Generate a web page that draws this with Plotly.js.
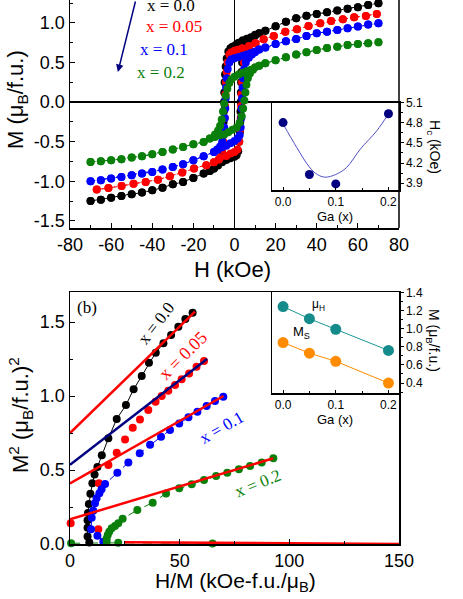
<!DOCTYPE html>
<html>
<head>
<meta charset="utf-8">
<script src="https://cdn.plot.ly/plotly-3.0.1.min.js"></script>
<style>html,body{margin:0;padding:0;background:#fff;}#plot{width:463px;height:599px;}</style>
</head>
<body>
<div id="plot"></div>
<script>
// ---------- Panel (a): M-H loops ----------
const hDownBlack = [70,65,60,55,50,45,40,35,30,25,20,15,12,10,8,6,4,2,1,0,-1,-2,-3,-3.8,-4.3,-4.6,-4.8,-5.0,-5.1,-5.2,-5.3,-5.4,-5.6,-6,-7,-8,-10,-12,-15,-20,-25,-30,-35,-40,-45,-50,-55,-60,-65,-70];
const mDownBlack = [1.25,1.228,1.20,1.178,1.156,1.135,1.114,1.09,1.06,1.016,0.96,0.90,0.87,0.85,0.82,0.80,0.78,0.75,0.73,0.71,0.70,0.68,0.64,0.55,0.45,0.35,0.25,0.12,0.0,-0.12,-0.25,-0.38,-0.52,-0.62,-0.72,-0.78,-0.84,-0.87,-0.903,-0.958,-1.009,-1.038,-1.08,-1.114,-1.143,-1.165,-1.186,-1.207,-1.232,-1.249];
const hUpBlack = [-70,-65,-60,-55,-50,-45,-40,-35,-30,-25,-20,-15,-12,-10,-8,-6,-4,-2,0,1,1.8,2.3,2.6,2.8,2.9,3.0,3.1,3.2,3.4,3.7,4.2,5,6,8,10,12,15,20,25,30,35,40,45,50,55,60,65,70];
const mUpBlack = [-1.249,-1.232,-1.207,-1.186,-1.165,-1.143,-1.114,-1.08,-1.038,-1.009,-0.958,-0.903,-0.87,-0.84,-0.80,-0.76,-0.73,-0.71,-0.69,-0.67,-0.62,-0.50,-0.38,-0.25,-0.12,0.0,0.12,0.25,0.38,0.50,0.60,0.68,0.74,0.80,0.84,0.87,0.90,0.96,1.016,1.06,1.09,1.114,1.135,1.156,1.178,1.20,1.228,1.25];

const hDownRed = [69.2,63.9,58.2,52.7,47,41.7,36,30.4,24.7,19.1,14.2,10.2,7,3.7,1.5,0,-1.5,-2.5,-3.3,-3.8,-4.1,-4.4,-4.6,-4.8,-5.1,-5.5,-6,-7,-7.6,-10,-13.7,-19.7,-25.4,-31.4,-37.2,-43.2,-49.1,-54.9,-61.3,-67];
const mDownRed = [1.114,1.089,1.072,1.047,1.025,0.996,0.962,0.92,0.89,0.835,0.794,0.743,0.71,0.68,0.66,0.65,0.63,0.60,0.50,0.38,0.25,0.10,-0.05,-0.20,-0.35,-0.50,-0.60,-0.70,-0.725,-0.76,-0.797,-0.84,-0.89,-0.937,-0.979,-1.009,-1.03,-1.059,-1.085,-1.105];
const hUpRed = [-67,-61.3,-54.9,-49.1,-43.2,-37.2,-31.4,-25.4,-19.7,-13.7,-10,-7.6,-4,-1.9,0,1.5,2.3,2.7,3.0,3.2,3.4,3.7,4.1,4.6,5.5,7,10.2,14.2,19.1,24.7,30.4,36,41.7,47,52.7,58.2,63.9,69.2];
const mUpRed = [-1.105,-1.085,-1.059,-1.03,-1.009,-0.979,-0.937,-0.89,-0.84,-0.797,-0.76,-0.725,-0.68,-0.65,-0.63,-0.60,-0.50,-0.35,-0.20,-0.05,0.10,0.25,0.38,0.50,0.60,0.68,0.743,0.794,0.835,0.89,0.92,0.962,0.996,1.025,1.047,1.072,1.089,1.114];

const hDownBlue = [70,65,60,55,50,45,40,35,30,25,20,15,12,10,8,6,4,2,0,-1.5,-2.5,-3.3,-3.8,-4.1,-4.3,-4.5,-4.7,-5,-5.4,-6,-7,-8.5,-10,-15,-20,-25,-30,-35,-40,-45,-50,-55,-60,-65,-70];
const mDownBlue = [0.996,0.98,0.954,0.933,0.911,0.89,0.87,0.835,0.797,0.77,0.735,0.69,0.665,0.64,0.62,0.60,0.585,0.57,0.555,0.54,0.50,0.42,0.30,0.18,0.05,-0.08,-0.20,-0.32,-0.42,-0.50,-0.56,-0.60,-0.629,-0.684,-0.734,-0.785,-0.819,-0.852,-0.882,-0.903,-0.924,-0.945,-0.966,-0.987,-1.0];
const hUpBlue = [-70,-65,-60,-55,-50,-45,-40,-35,-30,-25,-20,-15,-10,-8,-6,-4,-2,0,1.5,2.5,3,3.3,3.5,3.7,3.9,4.2,4.7,5.5,7,8.5,10,12,15,20,25,30,35,40,45,50,55,60,65,70];
const mUpBlue = [-1.0,-0.987,-0.966,-0.945,-0.924,-0.903,-0.882,-0.852,-0.819,-0.785,-0.734,-0.684,-0.629,-0.60,-0.57,-0.55,-0.52,-0.49,-0.46,-0.42,-0.32,-0.20,-0.08,0.05,0.18,0.30,0.42,0.50,0.56,0.60,0.63,0.665,0.69,0.735,0.77,0.797,0.835,0.87,0.89,0.911,0.933,0.954,0.98,0.996];

const hDownGreen = [70,65,60,55,50,45,40,35,30,25,20,15,12,10,8,6,4,2,0,-1.5,-2.5,-3.5,-4.3,-5,-5.6,-6.2,-7,-8,-9.5,-12,-15,-20,-25,-30,-35,-40,-45,-50,-55,-60,-65,-70];
const mDownGreen = [0.756,0.745,0.734,0.72,0.70,0.684,0.658,0.63,0.60,0.566,0.53,0.49,0.46,0.44,0.41,0.39,0.37,0.35,0.32,0.29,0.24,0.17,0.08,-0.02,-0.12,-0.22,-0.30,-0.36,-0.41,-0.46,-0.503,-0.532,-0.566,-0.599,-0.629,-0.658,-0.684,-0.70,-0.722,-0.734,-0.747,-0.755];
const hUpGreen = [-70,-65,-60,-55,-50,-45,-40,-35,-30,-25,-20,-15,-12,-9.5,-7,-5,-3,-1,1,2.5,3.5,4.2,4.8,5.3,5.8,6.5,7.5,9,12,15,20,25,30,35,40,45,50,55,60,65,70];
const mUpGreen = [-0.755,-0.747,-0.734,-0.722,-0.70,-0.684,-0.658,-0.629,-0.599,-0.566,-0.532,-0.503,-0.46,-0.44,-0.42,-0.41,-0.38,-0.35,-0.32,-0.26,-0.18,-0.08,0.02,0.12,0.22,0.30,0.36,0.41,0.46,0.49,0.53,0.566,0.60,0.63,0.658,0.684,0.70,0.72,0.734,0.745,0.756];

// tick labels of panel (a) (plain hyphen minus as in the figure)
const hTickVals = [-80,-60,-40,-20,0,20,40,60,80];
const hTickText = ['-80','-60','-40','-20','0','20','40','60','80'];
const mTickVals = [-1.5,-1.0,-0.5,0.0,0.5,1.0];
const mTickText = ['-1.5','-1.0','-0.5','0.0','0.5','1.0'];

// inset (a): coercive field vs Ga
const gaX = [0, 0.05, 0.1, 0.2];
const hcVals = [4.8, 4.03, 3.89, 4.93];
const hcFitGa = [0, 0.026, 0.05, 0.065, 0.08, 0.1, 0.12, 0.147, 0.178, 0.2];
const hcFitVals = [4.78, 4.43, 4.14, 4.03, 3.99, 4.03, 4.13, 4.41, 4.68, 4.93];

// ---------- Panel (b): Arrott plots ----------
const hmX00 = [8.8,8.0,8.0,8.0,8.2,8.6,9.3,10.2,11.2,12.5,14.5,17.5,21.3,25.5,29.0,32.7,36.0,39.1,42.6,46.1,49.4,52.6,55.9];
const m2X00 = [0.01,0.05,0.11,0.16,0.21,0.27,0.34,0.41,0.47,0.52,0.60,0.714,0.845,0.939,1.045,1.135,1.225,1.293,1.356,1.412,1.468,1.52,1.563];
const hmX05 = [0.3,12.9,13.2,17.5,21.3,25.1,28.6,31.9,35.7,39.0,41.8,44.8,47.9,50.9,54.3,57.7,61.1];
const m2X05 = [0.14,0.10,0.41,0.534,0.617,0.707,0.786,0.842,0.905,0.962,1.0,1.036,1.074,1.113,1.153,1.198,1.236];
const hmX10 = [15.2,12.5,9.6,9.9,10.6,11.4,12.1,13.4,14.4,16.0,21.6,26.6,31.8,36.5,41.5,45.6,49.8,54.0,58.1,62.3,66.1,69.9];
const m2X10 = [0.016,0.055,0.10,0.178,0.225,0.275,0.31,0.343,0.37,0.405,0.482,0.55,0.613,0.67,0.725,0.770,0.815,0.856,0.894,0.932,0.966,0.995];
const hmX20 = [16.7,16.7,17.2,17.9,19.0,20.5,22.0,24.0,30.7,37.7,43.8,49.8,55.5,61.1,66.6,71.7,77.0,82.1,87.4,92.7];
const m2X20 = [0.016,0.038,0.061,0.083,0.106,0.122,0.14,0.17,0.23,0.279,0.342,0.376,0.403,0.432,0.46,0.482,0.505,0.527,0.55,0.579];
const hmZero = [0.5, 22, 65];
const m2Zero = [0.005, 0.008, 0.004];
const hmZeroFit = [25, 150];
const m2ZeroFit = [0.012, 0.0];
// linear high-field fits
const fitHm00 = [0, 57], fitM00 = [0.75, 1.57];
const fitHm05 = [0, 62.5], fitM05 = [0.535, 1.25];
const fitHm10 = [0, 70], fitM10 = [0.41, 1.0];
const fitHm20 = [0, 92.7], fitM20 = [0.167, 0.579];

// inset (b)
const gaX2 = [0, 0.05, 0.1, 0.2];
const muH = [1.244, 1.11, 0.993, 0.76];
const msVals = [0.847, 0.73, 0.64, 0.40];

// ---------- styling ----------
const SANS = 'Liberation Sans, Arial, sans-serif';
const SERIF = 'Liberation Serif, Times New Roman, serif';
const cBlack = '#000000', cRed = '#ff0000', cBlue = '#0000ff', cGreen = '#0a800a', cNavy = '#000080';

function loop(hd, md, hu, mu, col) {
  return {x: hd.concat(hu), y: md.concat(mu), xaxis: 'x', yaxis: 'y', type: 'scatter', mode: 'lines+markers',
    line: {color: col, width: 1, dash: 'dot'}, marker: {color: col, size: 8}, cliponaxis: true};
}
function arrott(x, y, col, mode, dash) {
  return {x: x, y: y, xaxis: 'x2', yaxis: 'y2', type: 'scatter', mode: mode,
    line: {color: col, width: 1, dash: dash}, marker: {color: col, size: 8}, cliponaxis: false};
}
function fit(x, y, col) {
  return {x: x, y: y, xaxis: 'x2', yaxis: 'y2', type: 'scatter', mode: 'lines', line: {color: col, width: 2.5}};
}

const traces = [
  loop(hDownBlack, mDownBlack, hUpBlack, mUpBlack, cBlack),
  loop(hDownRed, mDownRed, hUpRed, mUpRed, cRed),
  loop(hDownBlue, mDownBlue, hUpBlue, mUpBlue, cBlue),
  loop(hDownGreen, mDownGreen, hUpGreen, mUpGreen, cGreen),
  {x: hcFitGa, y: hcFitVals, xaxis: 'x3', yaxis: 'y3', type: 'scatter', mode: 'lines', line: {color: '#5050c8', width: 1, shape: 'spline'}},
  {x: gaX, y: hcVals, xaxis: 'x3', yaxis: 'y3', type: 'scatter', mode: 'markers', marker: {color: cNavy, size: 9}, cliponaxis: false},
  arrott(hmZero, m2Zero, cGreen, 'lines+markers', 'dash'),
  arrott(hmX00, m2X00, cBlack, 'lines+markers', 'solid'),
  arrott(hmX05, m2X05, cRed, 'markers', 'solid'),
  arrott(hmX10, m2X10, cBlue, 'lines+markers', 'dash'),
  arrott(hmX20, m2X20, cGreen, 'lines+markers', 'dash'),
  fit(hmZeroFit, m2ZeroFit, cRed),
  fit(fitHm00, fitM00, cRed),
  fit(fitHm05, fitM05, cNavy),
  fit(fitHm10, fitM10, cRed),
  fit(fitHm20, fitM20, cRed),
  {x: gaX2, y: muH, xaxis: 'x4', yaxis: 'y4', type: 'scatter', mode: 'lines+markers', line: {color: '#1a9696', width: 1}, marker: {color: '#148c8c', size: 11}, cliponaxis: false},
  {x: gaX2, y: msVals, xaxis: 'x4', yaxis: 'y4', type: 'scatter', mode: 'lines+markers', line: {color: '#ff8c00', width: 1}, marker: {color: '#ff8c00', size: 11}, cliponaxis: false}
];

const W = 463, H = 599, ML = 70, MR = 64, MT = 0, MB = 55;
const PW = W - ML - MR, PH = H - MT - MB;
const px = v => (v - ML) / PW;
const py = v => (PH - (v - MT)) / PH;

const axBase = {showline: true, linecolor: 'black', linewidth: 1.5, showgrid: false, zeroline: false,
  ticks: 'inside', tickcolor: 'black', tickwidth: 1, ticklen: 5, tickfont: {family: SANS, size: 18, color: 'black'}};
const insetFont = {family: SANS, size: 12, color: 'black'};

function note(xp, yp, text, size, angle, family, color) {
  return {xref: 'paper', yref: 'paper', x: px(xp), y: py(yp), xanchor: 'center', yanchor: 'middle', text: text,
    textangle: angle || 0, showarrow: false, font: {family: family || SANS, size: size, color: color || 'black'}};
}
function dnote(xr, yr, x, y, text, size, angle, color) {
  return {xref: xr, yref: yr, x: x, y: y, xanchor: 'center', yanchor: 'middle', text: text, textangle: angle || 0,
    showarrow: false, font: {family: SERIF, size: size, color: color}};
}

const layout = {
  width: W, height: H, margin: {l: ML, r: MR, t: MT, b: MB, pad: 0},
  paper_bgcolor: 'white', plot_bgcolor: 'rgba(0,0,0,0)', showlegend: false,
  xaxis: Object.assign({}, axBase, {domain: [0, 1], anchor: 'y', range: [-80, 80], tickmode: 'array', tickvals: hTickVals, ticktext: hTickText,
    zeroline: true, zerolinecolor: 'black', zerolinewidth: 1.5,
    minor: {tickmode: 'linear', tick0: 0, dtick: 10, ticks: 'inside', ticklen: 3, tickcolor: 'black'}}),
  yaxis: Object.assign({}, axBase, {domain: [py(228), 1], anchor: 'x', range: [-1.59, 1.29], tickmode: 'array', tickvals: mTickVals, ticktext: mTickText,
    zeroline: true, zerolinecolor: 'black', zerolinewidth: 1.5,
    minor: {tickmode: 'linear', tick0: 0, dtick: 0.25, ticks: 'inside', ticklen: 3, tickcolor: 'black'}}),
  xaxis2: Object.assign({}, axBase, {domain: [0, 1], anchor: 'y2', range: [0, 150], tick0: 0, dtick: 50, mirror: true,
    minor: {dtick: 25, ticks: 'inside', ticklen: 3, tickcolor: 'black'}}),
  yaxis2: Object.assign({}, axBase, {domain: [0, py(292)], anchor: 'x2', range: [0, 1.703], tick0: 0, dtick: 0.5, tickformat: '.1f', mirror: true,
    minor: {dtick: 0.25, ticks: 'inside', ticklen: 3, tickcolor: 'black'}}),
  xaxis3: Object.assign({}, axBase, {domain: [px(272), 1], anchor: 'y3', range: [-0.021, 0.22], tick0: 0, dtick: 0.1, tickformat: '.1f',
    mirror: true, ticklen: 3, tickfont: insetFont,
    minor: {dtick: 0.05, ticks: 'inside', ticklen: 2, tickcolor: 'black'}}),
  yaxis3: Object.assign({}, axBase, {domain: [py(190), py(102)], anchor: 'x3', side: 'right', range: [3.8, 5.105], tick0: 3.9, dtick: 0.3,
    tickformat: '.1f', mirror: true, ticks: 'outside', ticklen: 3, tickfont: insetFont,
    minor: {dtick: 0.15, ticks: 'outside', ticklen: 2, tickcolor: 'black'}}),
  xaxis4: Object.assign({}, axBase, {domain: [px(272), 1], anchor: 'y4', range: [-0.021, 0.22], tick0: 0, dtick: 0.1, tickformat: '.1f',
    mirror: true, ticklen: 3, tickfont: insetFont,
    minor: {dtick: 0.05, ticks: 'inside', ticklen: 2, tickcolor: 'black'}}),
  yaxis4: Object.assign({}, axBase, {domain: [py(393), py(292)], anchor: 'x4', side: 'right', range: [0.29, 1.405], tick0: 0, dtick: 0.2,
    tickformat: '.1f', mirror: true, ticks: 'outside', ticklen: 3, tickfont: insetFont,
    minor: {dtick: 0.1, ticks: 'outside', ticklen: 2, tickcolor: 'black'}}),
  shapes: [
    {type: 'line', xref: 'paper', yref: 'paper', x0: 1, x1: 1, y0: py(228), y1: 1, line: {color: 'black', width: 1.5}}
  ],
  annotations: [
    note(17, 100, 'M (μ<sub>B</sub>/f.u.)', 22, -90),
    note(232, 269, 'H (kOe)', 22),
    dnote('x', 'y', -31, 1.215, 'x = 0.0', 17, 0, cBlack),
    dnote('x', 'y', -29.6, 0.95, 'x = 0.05', 17, 0, cRed),
    dnote('x', 'y', -34.4, 0.67, 'x = 0.1', 17, 0, cBlue),
    dnote('x', 'y', -35.9, 0.38, 'x = 0.2', 17, 0, cGreen),
    {xref: 'x', yref: 'y', x: -56.7, y: 0.38, axref: 'x', ayref: 'y', ax: -48, ay: 1.29, text: '', showarrow: true,
      arrowhead: 2, arrowsize: 1, arrowwidth: 1.5, arrowcolor: cNavy},
    note(434, 147, 'H<sub>c</sub> (kOe)', 14, 90),
    note(335, 216, 'Ga (x)', 13),
    note(20, 415, 'M<sup>2</sup> (μ<sub>B</sub>/f.u.)<sup>2</sup>', 22, -90),
    note(235, 582, 'H/M (kOe-f.u./μ<sub>B</sub>)', 21),
    dnote('x2', 'y2', 7.8, 1.60, '(b)', 17, 0, 'black'),
    dnote('x2', 'y2', 39.2, 1.493, 'x = 0.0', 17, -52, cBlack),
    dnote('x2', 'y2', 51.7, 1.277, 'x = 0.05', 18, -45, cRed),
    dnote('x2', 'y2', 69.3, 0.784, 'x = 0.1', 17, -30, cBlue),
    dnote('x2', 'y2', 85.6, 0.41, 'x = 0.2', 17, -22, cGreen),
    note(433, 340, 'M (μ<sub>B</sub>/f.u.)', 14, 90),
    note(335, 419, 'Ga (x)', 13),
    note(318, 305, 'μ<sub>H</sub>', 12),
    note(301, 333, 'M<sub>S</sub>', 13)
  ]
};

Plotly.newPlot('plot', traces, layout, {displayModeBar: false, staticPlot: true});
</script>
</body>
</html>
